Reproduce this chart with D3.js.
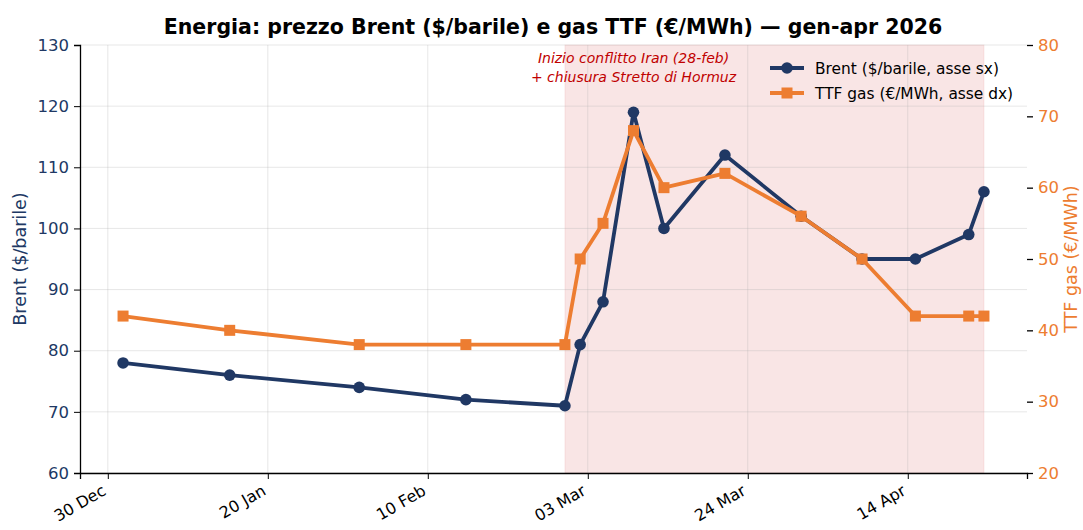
<!DOCTYPE html>
<html>
<head>
<meta charset="utf-8">
<script src="https://cdn.jsdelivr.net/npm/d3@7"></script>
<style>
  body { margin: 0; background: #fff; }
  text { font-family: "DejaVu Sans", sans-serif; }
</style>
</head>
<body>
<div id="chart"></div>
<script>
// Data
const dates = ["2026-01-01", "2026-01-15", "2026-02-01", "2026-02-15", "2026-02-28",
  "2026-03-02", "2026-03-05", "2026-03-09", "2026-03-13", "2026-03-21", "2026-03-31",
  "2026-04-08", "2026-04-15", "2026-04-22", "2026-04-24"]
const brent = [78, 76, 74, 72, 71, 81, 88, 119, 100, 112, 102, 95, 95, 99, 106]
const ttf = [42, 40, 38, 38, 38, 50, 55, 68, 60, 62, 56, 50, 42, 42, 42]
const xTickDates = ["2025-12-30", "2026-01-20", "2026-02-10", "2026-03-03", "2026-03-24", "2026-04-14"]
const brentTicks = [60, 70, 80, 90, 100, 110, 120, 130]
const ttfTicks = [20, 30, 40, 50, 60, 70, 80]
const conflictSpan = ["2026-02-28", "2026-04-24"]
const annotationLines = ["Inizio conflitto Iran (28-feb)", "+ chiusura Stretto di Hormuz"]
const annotationDate = "2026-03-09"
const legendLabels = ["Brent ($/barile, asse sx)", "TTF gas (€/MWh, asse dx)"]

// Dimensions
const chartWidth = 1083
const chartHeight = 530
const plotLeft = 80
const plotRight = 1027
const plotTop = 45
const plotBottom = 473
const navy = "#203864"
const orange = "#ed7d31"
const lineWidth = 3.8

const parse = d3.utcParse("%Y-%m-%d")
const pts = dates.map(function(d, i) { return {date: parse(d), brent: brent[i], ttf: ttf[i]} })

const svg = d3.select("#chart").append("svg")
  .attr("width", chartWidth)
  .attr("height", chartHeight)

// x domain with 5% padding around the data
const ext = d3.extent(pts, function(d) { return d.date })
const pad = (ext[1] - ext[0]) * 0.05
const x = d3.scaleUtc()
  .domain([new Date(+ext[0] - pad), new Date(+ext[1] + pad)])
  .range([plotLeft, plotRight])
const yL = d3.scaleLinear().domain([60, 130]).range([plotBottom, plotTop])
const yR = d3.scaleLinear().domain([20, 80]).range([plotBottom, plotTop])

// shaded conflict period
svg.append("rect")
  .attr("x", x(parse(conflictSpan[0])))
  .attr("y", plotTop)
  .attr("width", x(parse(conflictSpan[1])) - x(parse(conflictSpan[0])))
  .attr("height", plotBottom - plotTop)
  .attr("fill", "#c00000")
  .attr("fill-opacity", 0.1)
  .attr("stroke", "#c00000")
  .attr("stroke-opacity", 0.08)

// grid
svg.selectAll(".hgrid")
  .data(brentTicks)
  .enter().append("line")
  .attr("x1", plotLeft).attr("x2", plotRight)
  .attr("y1", function(d) { return yL(d) })
  .attr("y2", function(d) { return yL(d) })
  .attr("stroke", "#b0b0b0")
  .attr("stroke-opacity", 0.3)
  .attr("stroke-width", 1)

svg.selectAll(".vgrid")
  .data(xTickDates)
  .enter().append("line")
  .attr("x1", function(d) { return x(parse(d)) })
  .attr("x2", function(d) { return x(parse(d)) })
  .attr("y1", plotTop).attr("y2", plotBottom)
  .attr("stroke", "#b0b0b0")
  .attr("stroke-opacity", 0.3)
  .attr("stroke-width", 1)

// axes
const xAxis = svg.append("g")
  .attr("transform", "translate(0," + plotBottom + ")")
  .call(d3.axisBottom(x).tickValues(xTickDates.map(parse)).tickFormat(d3.utcFormat("%d %b")).tickSize(6))
xAxis.select(".domain").attr("stroke", "#000").attr("stroke-width", 1.3)
xAxis.selectAll("text")
  .attr("y", 0)
  .attr("dy", "0.71em")
  .attr("text-anchor", "end")
  .attr("transform", "translate(-7,11) rotate(-30)")
  .style("font-size", "16px")
  .attr("fill", "#000")

const leftAxis = svg.append("g")
  .attr("transform", "translate(" + plotLeft + ",0)")
  .call(d3.axisLeft(yL).tickValues(brentTicks).tickSize(6).tickPadding(5))
leftAxis.select(".domain").attr("stroke", "#000").attr("stroke-width", 1.3)
leftAxis.selectAll("text").style("font-size", "16.5px").attr("fill", navy)

const rightAxis = svg.append("g")
  .attr("transform", "translate(" + plotRight + ",0)")
  .call(d3.axisRight(yR).tickValues(ttfTicks).tickSize(6).tickPadding(5))
rightAxis.select(".domain").remove()
rightAxis.selectAll("line").attr("stroke-width", 1.3)
rightAxis.selectAll("text").style("font-size", "16.5px").attr("fill", orange)

// axis titles
svg.append("text")
  .attr("transform", "translate(26," + ((plotTop + plotBottom) / 2) + ") rotate(-90)")
  .attr("text-anchor", "middle")
  .attr("fill", navy)
  .style("font-size", "17.5px")
  .text("Brent ($/barile)")

svg.append("text")
  .attr("transform", "translate(1077," + ((plotTop + plotBottom) / 2) + ") rotate(-90)")
  .attr("text-anchor", "middle")
  .attr("fill", orange)
  .style("font-size", "17.5px")
  .text("TTF gas (€/MWh)")

// title
svg.append("text")
  .attr("x", 553)
  .attr("y", 34)
  .attr("text-anchor", "middle")
  .style("font-size", "20.5px")
  .style("font-weight", "bold")
  .text("Energia: prezzo Brent ($/barile) e gas TTF (€/MWh) — gen-apr 2026")

// annotation
svg.selectAll(".annot")
  .data(annotationLines)
  .enter().append("text")
  .attr("x", x(parse(annotationDate)))
  .attr("y", function(d, i) { return 63 + i * 19 })
  .attr("text-anchor", "middle")
  .attr("fill", "#c00000")
  .style("font-size", "14px")
  .style("font-style", "italic")
  .text(function(d) { return d })

// lines
const brentLine = d3.line()
  .x(function(d) { return x(d.date) })
  .y(function(d) { return yL(d.brent) })
const ttfLine = d3.line()
  .x(function(d) { return x(d.date) })
  .y(function(d) { return yR(d.ttf) })

svg.append("path")
  .datum(pts)
  .attr("d", brentLine)
  .attr("fill", "none")
  .attr("stroke", navy)
  .attr("stroke-width", lineWidth)
  .attr("stroke-linejoin", "round")

svg.selectAll(".brent-pt")
  .data(pts)
  .enter().append("circle")
  .attr("cx", function(d) { return x(d.date) })
  .attr("cy", function(d) { return yL(d.brent) })
  .attr("r", 5.8)
  .attr("fill", navy)

svg.append("path")
  .datum(pts)
  .attr("d", ttfLine)
  .attr("fill", "none")
  .attr("stroke", orange)
  .attr("stroke-width", lineWidth)
  .attr("stroke-linejoin", "round")

svg.selectAll(".ttf-pt")
  .data(pts)
  .enter().append("rect")
  .attr("x", function(d) { return x(d.date) - 5.5 })
  .attr("y", function(d) { return yR(d.ttf) - 5.5 })
  .attr("width", 11)
  .attr("height", 11)
  .attr("fill", orange)

// legend
const legend = svg.append("g").attr("transform", "translate(770,68)")
legendLabels.forEach(function(label, i) {
  let color = i === 0 ? navy : orange
  let row = legend.append("g").attr("transform", "translate(0," + (i * 25) + ")")
  row.append("line")
    .attr("x1", 0).attr("x2", 34)
    .attr("stroke", color)
    .attr("stroke-width", lineWidth)
  if (i === 0) {
    row.append("circle").attr("cx", 17).attr("r", 5.8).attr("fill", color)
  } else {
    row.append("rect").attr("x", 11.5).attr("y", -5.5).attr("width", 11).attr("height", 11).attr("fill", color)
  }
  row.append("text")
    .attr("x", 45)
    .attr("y", 5.5)
    .style("font-size", "15.4px")
    .attr("fill", "#000")
    .text(label)
})
</script>
</body>
</html>
